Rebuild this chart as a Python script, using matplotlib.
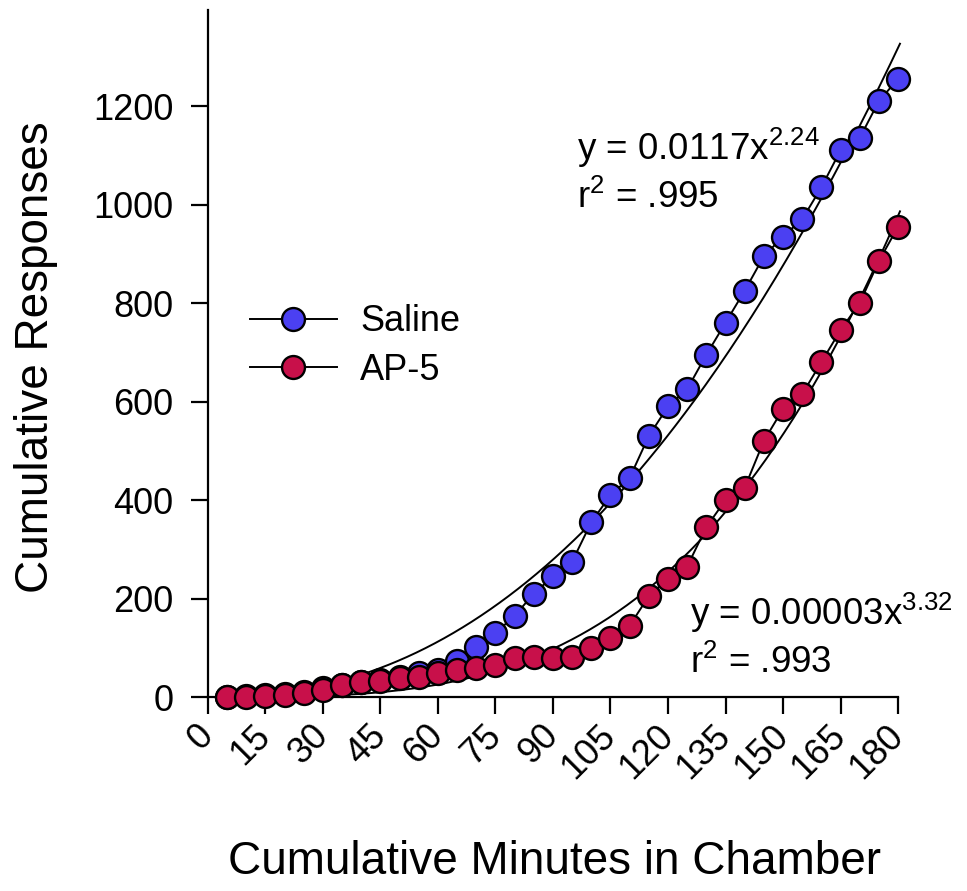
import numpy as np
import matplotlib
matplotlib.use("Agg")
import matplotlib.pyplot as plt
from matplotlib.transforms import ScaledTranslation

plt.rcParams['font.family'] = ['Liberation Sans', 'DejaVu Sans']

minutes = [5, 10, 15, 20, 25, 30, 35, 40, 45, 50, 55, 60, 65, 70, 75, 80, 85, 90,
           95, 100, 105, 110, 115, 120, 125, 130, 135, 140, 145, 150, 155, 160, 165, 170, 175, 180]
saline = [0, 2, 4, 6, 10, 18, 25, 30, 35, 40, 48, 55, 73, 101, 130, 165, 210, 245,
          275, 355, 410, 445, 530, 590, 625, 695, 760, 825, 895, 935, 970, 1035, 1110, 1135, 1210, 1255]
ap5 = [0, 1, 3, 5, 8, 15, 25, 30, 33, 38, 40, 48, 55, 58, 65, 80, 82, 80,
       82, 100, 120, 145, 205, 240, 265, 345, 400, 425, 520, 585, 615, 680, 745, 800, 885, 955]

# power fits (coefficient, exponent); printed labels are rounded
saline_fit = (0.0117, 2.24)
ap5_fit = (0.0000318, 3.32)

xticks = list(range(0, 181, 15))
yticks = list(range(0, 1201, 200))

fig = plt.figure(figsize=(9.67, 8.91), dpi=100)
ax = fig.add_axes([0.215, 0.2177, 0.7137, 0.7711])

xs = np.linspace(0, 180.5, 300)
ax.plot(xs, saline_fit[0] * xs ** saline_fit[1], color='black', lw=1.4, zorder=2, clip_on=False)
ax.plot(xs, ap5_fit[0] * xs ** ap5_fit[1], color='black', lw=1.4, zorder=2, clip_on=False)

ax.plot(minutes, saline, '-o', color='black', lw=1.4, ms=16.5, mfc='#4b40f2',
        mec='black', mew=1.7, label='Saline', clip_on=False, zorder=3)
ax.plot(minutes, ap5, '-o', color='black', lw=1.4, ms=16.5, mfc='#c8104a',
        mec='black', mew=1.7, label='AP-5', clip_on=False, zorder=4)

ax.set_xlim(0, 180)
ax.set_ylim(0, 1395)
ax.set_xticks(xticks)
ax.set_xticklabels([str(t) for t in xticks], rotation=45, ha='right', va='center',
                   rotation_mode='anchor', fontsize=26)
for lab in ax.get_xticklabels():
    lab.set_transform(lab.get_transform() + ScaledTranslation(0.07, 0, fig.dpi_scale_trans))
ax.set_yticks(yticks)
ax.set_yticklabels([str(t) for t in yticks], fontsize=26)
ax.tick_params(axis='y', direction='out', length=12, width=1.6, pad=13)
ax.tick_params(axis='x', direction='out', length=12, width=1.6, pad=12)

for s in ['top', 'right']:
    ax.spines[s].set_visible(False)
for s in ['left', 'bottom']:
    ax.spines[s].set_linewidth(1.6)

fig.text(555 / 967, 1 - 862 / 891, 'Cumulative Minutes in Chamber', fontsize=33,
         ha='center', va='center')
fig.text(36 / 967, 1 - 357 / 891, 'Cumulative Responses', fontsize=33,
         ha='center', va='center', rotation=90)

eq = dict(fontsize=26.5, va='baseline', ha='left')
ax.text(96.3, 1090, r'y = 0.0117x$^{\mathregular{2.24}}$', **eq)
ax.text(96.3, 993, r'r$^{\mathregular{2}}$ = .995', **eq)
ax.text(125.7, 146, r'y = 0.00003x$^{\mathregular{3.32}}$', **eq)
ax.text(125.7, 49, r'r$^{\mathregular{2}}$ = .993', **eq)

ax.legend(loc='center left', bbox_to_anchor=(250 / 967, 1 - 346 / 891),
          bbox_transform=fig.transFigure, frameon=False, fontsize=26, borderpad=0,
          borderaxespad=0, handlelength=2.4, handletextpad=0.65, labelspacing=0.38)

fig.savefig('out.png', dpi=100)
